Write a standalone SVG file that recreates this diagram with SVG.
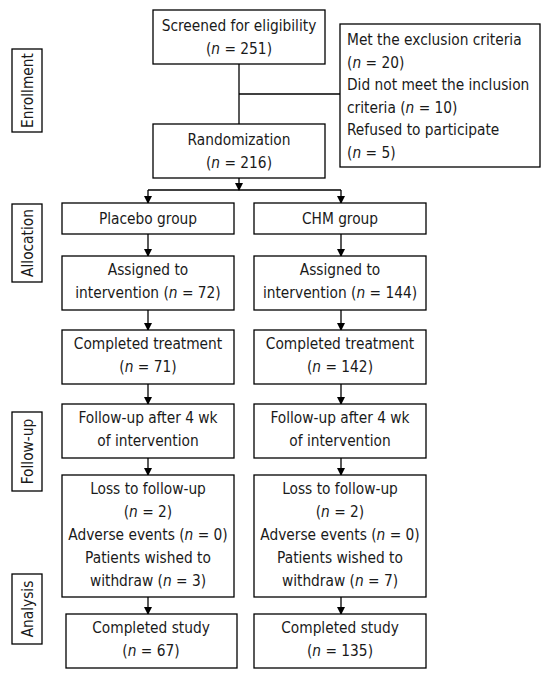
<svg xmlns="http://www.w3.org/2000/svg" width="552" height="679" viewBox="0 0 552 679">
<style>
.b{fill:#fff;stroke:#000;stroke-width:1.3}
.t{font-family:"DejaVu Sans Condensed","DejaVu Sans",sans-serif;font-size:15.3px;fill:#1a1a1a}
.c{text-anchor:middle}
.l{stroke:#000;stroke-width:1.3;fill:none}
.a{stroke:#000;stroke-width:1.3;fill:none;marker-end:url(#ah)}
.i{font-style:italic}
</style>
<defs>
<marker id="ah" markerWidth="8" markerHeight="9" refX="7" refY="4.5" orient="auto" markerUnits="userSpaceOnUse" viewBox="0 0 8 9">
<path d="M0,0.5 L8,4.5 L0,8.5 Z" fill="#000"/>
</marker>
</defs>
<rect width="552" height="679" fill="#fff"/>
<g id="connectors">
<line class="l" x1="239" y1="64" x2="239" y2="124"/>
<line class="l" x1="239" y1="94" x2="340" y2="94"/>
<line class="a" x1="239" y1="178" x2="239" y2="190"/>
<polyline class="l" points="148,190 341,190"/>
<line class="a" x1="148" y1="190" x2="148" y2="203"/>
<line class="a" x1="341" y1="190" x2="341" y2="203"/>
<line class="a" x1="148" y1="234" x2="148" y2="256"/>
<line class="a" x1="341" y1="234" x2="341" y2="256"/>
<line class="a" x1="148" y1="310" x2="148" y2="330"/>
<line class="a" x1="341" y1="310" x2="341" y2="330"/>
<line class="a" x1="148" y1="384" x2="148" y2="404"/>
<line class="a" x1="341" y1="384" x2="341" y2="404"/>
<line class="a" x1="148" y1="458" x2="148" y2="475"/>
<line class="a" x1="341" y1="458" x2="341" y2="475"/>
<line class="a" x1="148" y1="597" x2="148" y2="614"/>
<line class="a" x1="341" y1="597" x2="341" y2="614"/>
</g>
<g id="enrollment">
<rect class="b" x="12" y="49" width="30" height="83"/>
<text class="t c" transform="translate(32.5,90.5) rotate(-90)">Enrollment</text>
</g>
<g id="allocation">
<rect class="b" x="12" y="204" width="30" height="78"/>
<text class="t c" transform="translate(32.5,243) rotate(-90)">Allocation</text>
</g>
<g id="followup">
<rect class="b" x="12" y="412" width="30" height="79"/>
<text class="t c" transform="translate(32.5,451.5) rotate(-90)">Follow-up</text>
</g>
<g id="analysis">
<rect class="b" x="12" y="574" width="30" height="70"/>
<text class="t c" transform="translate(32.5,609) rotate(-90)">Analysis</text>
</g>
<g id="screened">
<rect class="b" x="153" y="10" width="172" height="54"/>
<text class="t c" x="239" y="31">Screened for eligibility</text>
<text class="t c" x="239" y="54">(<tspan class="i">n</tspan> = 251)</text>
</g>
<g id="excluded">
<rect class="b" x="340" y="24" width="200" height="143"/>
<text class="t" x="347" y="45">Met the exclusion criteria</text>
<text class="t" x="347" y="67.5">(<tspan class="i">n</tspan> = 20)</text>
<text class="t" x="347" y="90">Did not meet the inclusion</text>
<text class="t" x="347" y="112.5">criteria (<tspan class="i">n</tspan> = 10)</text>
<text class="t" x="347" y="135">Refused to participate</text>
<text class="t" x="347" y="157.5">(<tspan class="i">n</tspan> = 5)</text>
</g>
<g id="randomization">
<rect class="b" x="153" y="124" width="172" height="54"/>
<text class="t c" x="239" y="145">Randomization</text>
<text class="t c" x="239" y="168">(<tspan class="i">n</tspan> = 216)</text>
</g>
<g id="placebo">
<rect class="b" x="62" y="203" width="172" height="31"/>
<text class="t c" x="148" y="224">Placebo group</text>
</g>
<g id="chm">
<rect class="b" x="254" y="203" width="172" height="31"/>
<text class="t c" x="340" y="224">CHM group</text>
</g>
<g id="assigned-placebo">
<rect class="b" x="62" y="256" width="172" height="54"/>
<text class="t c" x="148" y="275">Assigned to</text>
<text class="t c" x="148" y="298">intervention (<tspan class="i">n</tspan> = 72)</text>
</g>
<g id="assigned-chm">
<rect class="b" x="254" y="256" width="172" height="54"/>
<text class="t c" x="340" y="275">Assigned to</text>
<text class="t c" x="340" y="298">intervention (<tspan class="i">n</tspan> = 144)</text>
</g>
<g id="treat-placebo">
<rect class="b" x="62" y="330" width="172" height="54"/>
<text class="t c" x="148" y="349">Completed treatment</text>
<text class="t c" x="148" y="372">(<tspan class="i">n</tspan> = 71)</text>
</g>
<g id="treat-chm">
<rect class="b" x="254" y="330" width="172" height="54"/>
<text class="t c" x="340" y="349">Completed treatment</text>
<text class="t c" x="340" y="372">(<tspan class="i">n</tspan> = 142)</text>
</g>
<g id="follow-placebo">
<rect class="b" x="62" y="404" width="172" height="54"/>
<text class="t c" x="148" y="423">Follow-up after 4 wk</text>
<text class="t c" x="148" y="446">of intervention</text>
</g>
<g id="follow-chm">
<rect class="b" x="254" y="404" width="172" height="54"/>
<text class="t c" x="340" y="423">Follow-up after 4 wk</text>
<text class="t c" x="340" y="446">of intervention</text>
</g>
<g id="loss-placebo">
<rect class="b" x="62" y="475" width="172" height="122"/>
<text class="t c" x="148" y="494">Loss to follow-up</text>
<text class="t c" x="148" y="517">(<tspan class="i">n</tspan> = 2)</text>
<text class="t c" x="148" y="540">Adverse events (<tspan class="i">n</tspan> = 0)</text>
<text class="t c" x="148" y="563">Patients wished to</text>
<text class="t c" x="148" y="586">withdraw (<tspan class="i">n</tspan> = 3)</text>
</g>
<g id="loss-chm">
<rect class="b" x="254" y="475" width="172" height="122"/>
<text class="t c" x="340" y="494">Loss to follow-up</text>
<text class="t c" x="340" y="517">(<tspan class="i">n</tspan> = 2)</text>
<text class="t c" x="340" y="540">Adverse events (<tspan class="i">n</tspan> = 0)</text>
<text class="t c" x="340" y="563">Patients wished to</text>
<text class="t c" x="340" y="586">withdraw (<tspan class="i">n</tspan> = 7)</text>
</g>
<g id="done-placebo">
<rect class="b" x="66" y="614" width="171" height="54"/>
<text class="t c" x="151" y="633">Completed study</text>
<text class="t c" x="151" y="656">(<tspan class="i">n</tspan> = 67)</text>
</g>
<g id="done-chm">
<rect class="b" x="254" y="614" width="172" height="54"/>
<text class="t c" x="340" y="633">Completed study</text>
<text class="t c" x="340" y="656">(<tspan class="i">n</tspan> = 135)</text>
</g>
</svg>
